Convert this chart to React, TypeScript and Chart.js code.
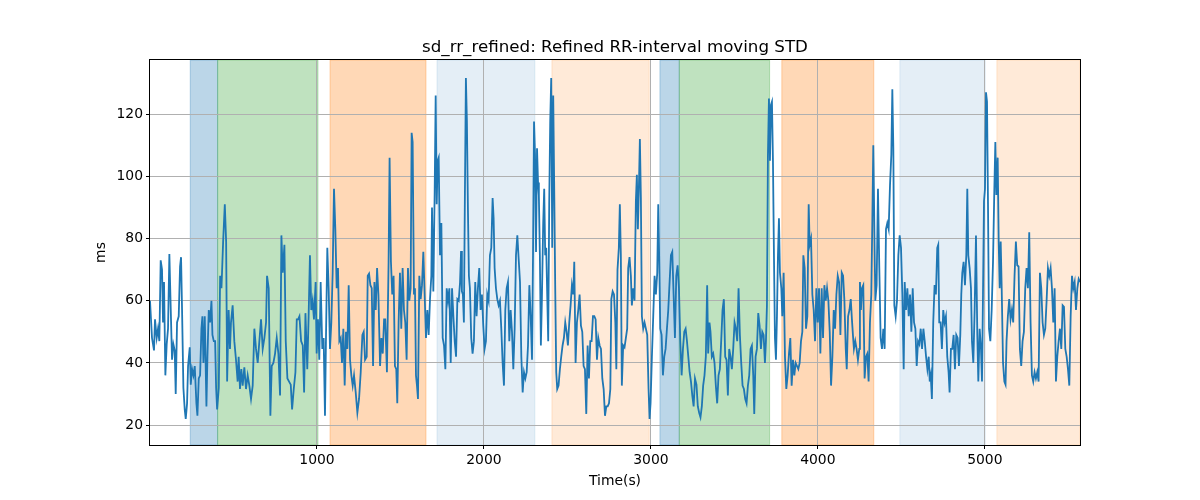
import { useEffect, useRef } from "react";
import { Chart, registerables } from "chart.js";

Chart.register(...registerables);

// ---- data ----
const timeSec = [
  0, 12, 24, 30, 40, 48, 56, 64, 72, 78, 84, 92, 100, 108, 116, 122, 132, 140, 148, 154,
  162, 172, 180, 186, 192, 200, 208, 214, 222, 228, 238, 244, 252, 260, 268, 278, 284, 292, 300, 308,
  314, 320, 328, 338, 344, 352, 360, 368, 374, 382, 390, 396, 402, 412, 420, 428, 438, 448, 456, 462,
  471, 479, 485, 495, 505, 515, 525, 531, 539, 547, 555, 565, 575, 585, 595, 605, 615, 625, 635, 645,
  655, 665, 675, 685, 695, 701, 711, 721, 729, 739, 749, 759, 769, 779, 787, 795, 805, 813, 823, 833,
  843, 851, 861, 871, 879, 887, 895, 905, 915, 923, 931,
  942, 950, 958, 966, 974, 982, 992, 998, 1006, 1014, 1022, 1032, 1040, 1048, 1054, 1062, 1070, 1078, 1086, 1094,
  1102, 1110, 1118, 1126, 1134, 1142, 1150, 1158, 1166, 1174, 1182, 1190, 1198, 1206, 1214, 1222, 1232, 1242, 1252, 1262,
  1272, 1280, 1288, 1298, 1304, 1312, 1320, 1328, 1336, 1344, 1352, 1360, 1368, 1378, 1386,
  1394, 1402, 1409, 1419, 1429, 1435, 1443, 1451, 1459, 1467, 1475, 1481, 1489, 1497, 1505, 1513, 1521, 1529, 1537, 1545,
  1553, 1561, 1567, 1573, 1581, 1587, 1593, 1599, 1605, 1613, 1621, 1629, 1637, 1645, 1653, 1661, 1669, 1677, 1685, 1689,
  1697, 1705, 1711, 1717, 1723, 1729, 1737, 1745, 1753, 1761, 1769, 1777, 1785, 1793, 1801, 1809, 1817, 1825, 1833, 1841,
  1849, 1857, 1863, 1868, 1874, 1880, 1886, 1892, 1898, 1904, 1910, 1916, 1924, 1932, 1940, 1948, 1956, 1964, 1972, 1980,
  1988, 1996, 2004, 2012, 2020, 2028, 2036, 2044, 2052, 2058, 2064, 2072, 2080, 2088, 2096, 2104, 2112, 2120, 2128, 2136,
  2144, 2152, 2160, 2168, 2176, 2184, 2192, 2200, 2208, 2216, 2224, 2232, 2240, 2248, 2256, 2264, 2272, 2280, 2288, 2294,
  2300, 2306, 2312, 2318, 2324,
  2329, 2335, 2341, 2347, 2355, 2361, 2367, 2373, 2379, 2385, 2391, 2397, 2403, 2409, 2415, 2421, 2427, 2433, 2439, 2447,
  2455, 2463, 2471, 2479, 2487, 2495, 2503, 2511, 2519, 2527, 2535, 2541, 2549, 2557, 2565, 2573, 2581, 2589, 2597, 2605,
  2613, 2621, 2629, 2637, 2645, 2653, 2661, 2669, 2677, 2685, 2693, 2701, 2709, 2717, 2725, 2733, 2741, 2749, 2757, 2763,
  2771, 2779, 2787, 2793, 2800, 2808, 2814, 2820, 2826, 2834, 2842, 2850, 2858, 2864, 2872, 2880, 2886, 2894, 2902, 2910,
  2916, 2922, 2928, 2934, 2940, 2946, 2954, 2962, 2970, 2978, 2986, 2992, 2998, 3006, 3014, 3022, 3030, 3038, 3044, 3050,
  3056, 3064, 3072, 3080, 3088, 3096, 3104, 3112, 3120, 3128, 3136, 3144, 3152, 3160, 3168, 3176, 3184, 3192, 3200, 3208,
  3216, 3224, 3232, 3240, 3248, 3256,
  3264, 3273, 3281, 3289, 3297, 3305, 3313, 3321, 3329, 3337, 3343, 3351, 3357, 3365, 3373, 3381, 3389, 3397, 3405, 3413,
  3421, 3429, 3437, 3445, 3453, 3461, 3469, 3477, 3485, 3493, 3501, 3509, 3517, 3525, 3533, 3541, 3549, 3557, 3565, 3573,
  3581, 3589, 3597, 3605, 3613, 3619, 3627, 3635, 3643, 3651, 3659, 3667, 3675, 3683, 3689, 3695, 3701, 3707, 3713, 3719,
  3725, 3731, 3737, 3743, 3749, 3755, 3761, 3767, 3773, 3781, 3787, 3795, 3803, 3811, 3819, 3827, 3835, 3843, 3851, 3859,
  3867, 3875, 3883, 3891, 3899, 3907, 3913, 3921, 3929, 3937, 3945, 3951, 3959, 3967, 3975, 3983, 3991, 3999, 4007, 4015,
  4023, 4031, 4039, 4047, 4055, 4063, 4071, 4079, 4087, 4095, 4103, 4111, 4119, 4127, 4135, 4143, 4151, 4159, 4167, 4173,
  4181, 4189, 4197,
  4204, 4210, 4216, 4224, 4232, 4240, 4248, 4252, 4258, 4264, 4272, 4280, 4288, 4296, 4304, 4312, 4320, 4326, 4332, 4338,
  4344, 4352, 4360, 4368, 4376, 4384, 4392, 4400, 4408, 4416, 4424, 4432, 4440, 4446, 4452, 4458, 4466, 4474, 4482, 4490,
  4498, 4506, 4514, 4520, 4528, 4536, 4544, 4552, 4560, 4568, 4576, 4584, 4592, 4600, 4608, 4616, 4624, 4632, 4640, 4648,
  4656, 4664, 4670, 4676, 4683, 4691, 4699, 4707, 4715, 4721, 4727, 4735, 4743, 4751, 4759, 4767, 4775, 4783, 4789, 4797,
  4805, 4813, 4821, 4829, 4837, 4845, 4853, 4859, 4865, 4873, 4881, 4889, 4895, 4901, 4909, 4917, 4923, 4931, 4939, 4947,
  4955, 4961, 4969, 4977, 4983, 4989, 4995, 5001, 5007, 5013, 5019, 5025, 5033, 5041, 5049, 5057, 5063, 5069, 5077, 5083,
  5089, 5095, 5101, 5109,
  5117, 5124, 5130, 5138, 5146, 5154, 5162, 5170, 5178, 5186, 5194, 5202, 5210, 5218, 5226, 5234, 5242, 5250, 5258, 5266,
  5274, 5282, 5290, 5298, 5306, 5314, 5322, 5330, 5338, 5346, 5354, 5362, 5370, 5378, 5386, 5394, 5402, 5410, 5418, 5426,
  5434, 5442, 5450, 5458, 5466, 5474, 5482, 5490, 5498, 5506, 5514, 5522, 5530, 5538, 5546, 5554, 5562, 5570,
];

const sdRrMs = [
  60, 48, 44, 54, 48, 51, 47, 73, 70, 53, 66, 36, 46, 51, 75, 62, 41, 46, 44, 30,
  53, 55, 71, 74, 57, 32, 25, 22, 27, 39, 45, 33, 38, 36, 39, 27, 23, 35, 36, 51,
  55, 40, 55, 26, 42, 57, 53, 60, 49, 47, 47, 32, 25, 32, 68, 64, 79, 91, 79, 34,
  57, 44.5, 53, 58.5, 47, 41, 34, 42, 31.6, 38, 32.7, 38.6, 31.6, 36, 32.7, 28.4, 32.7, 51, 44.5, 40,
  47, 54, 44.5, 48, 53, 68, 64, 23, 39, 40, 43, 48, 43, 29.5, 81, 69, 78, 47, 35, 34,
  33, 25, 31.6, 37, 54, 54, 55, 47, 45.6, 30.5, 56,
  38, 55, 74.6, 57, 60, 54, 66, 43, 54, 41, 66, 44.5, 48, 23, 48, 77, 64, 44.5, 53, 69,
  96, 83, 64, 70.5, 47, 48, 40, 51, 32.7, 50, 44.5, 65, 41, 36, 32.7, 36, 30.5, 24, 28.4, 37,
  49, 50, 41, 42, 68, 68.7, 65, 64, 39, 66, 57, 70.5, 62, 39, 48,
  43, 54, 54, 37, 72.5, 106, 72.5, 62, 68, 39, 38, 27, 53, 69, 51, 70.5, 57, 53, 41, 70.5,
  60, 64, 114, 111, 62, 64, 36, 32.7, 28.4, 68, 60.5, 65, 75.7, 62, 48, 57, 49, 60.5, 68, 90,
  63, 95, 126, 91, 105, 106, 74.6, 85, 48, 45.6, 38, 64, 60, 64, 40, 64, 55, 47, 42, 60.5,
  60, 66, 76, 63, 62, 53, 94, 131.6, 117.6, 90, 68, 64, 48, 43, 47, 66, 55, 64, 70.5, 57,
  62, 52, 44.5, 47, 62, 60, 74.6, 77, 93, 86.5, 70.5, 64, 60.5, 58.5, 60, 51, 40, 32.7, 57, 64,
  66, 47, 57, 50, 38, 51, 74.6, 81, 73.5, 66, 42, 30.5, 37, 35, 37, 45.6, 65, 55, 41, 74.6,
  117.6, 107, 75.7, 109, 98,
  94, 74.6, 45.6, 60, 85, 96, 74.6, 77, 62, 47, 91, 117.6, 131.6, 77, 126, 96, 64, 37, 31.6, 32.7,
  38, 42, 45.6, 48, 53, 50, 45.6, 53, 58.5, 65, 62, 72.5, 40, 53, 57, 62, 52, 50, 39, 38,
  23.6, 45.6, 35, 47, 47, 55, 55, 54, 41, 48, 45.6, 44.5, 35, 31.6, 23, 26, 26, 27, 31.6, 60.5,
  63, 62, 53, 38, 70, 77, 91, 74.6, 32.7, 45.6, 45, 48, 51, 70.5, 74, 68, 58.5, 64, 60, 92,
  100.5, 83, 96, 112, 93, 55, 51, 53, 51, 49, 31.6, 22, 27, 42, 55, 68, 62, 69, 91, 72.5,
  51, 49, 36, 42, 44.5, 51, 57, 66, 74.6, 75.7, 62, 48, 68, 71.4, 64, 47, 36, 44.5, 50, 51,
  47, 42, 37, 34, 29.5, 26,
  35, 33, 26, 24, 22.5, 26, 32.7, 36, 42, 65, 43, 53, 50, 42, 43, 40, 32.7, 27, 36, 38,
  47, 57, 60.5, 42, 41, 29.5, 44.5, 42, 38, 44.5, 53, 51, 47, 64, 49, 40, 32.7, 31.6, 28.4, 27,
  32.7, 36, 44.5, 45.6, 36, 23.6, 42, 44.5, 56, 52, 44.5, 50, 49, 40, 47, 58.5, 107, 125, 105, 123,
  124, 105, 74.6, 48, 41, 55, 74.6, 86.5, 69, 64, 55, 69, 42, 31.6, 36, 43, 48, 32.7, 41, 36,
  40, 39, 38, 40, 47, 50, 74.6, 70.5, 51, 55, 91, 78, 80, 62, 57, 47, 64, 53, 64, 43,
  64, 48, 65, 60, 64, 60, 50, 32.7, 42, 57, 51, 62, 68, 66, 49, 69, 68, 60, 44.5, 38,
  55, 57, 60.5,
  54, 49, 44.5, 47, 44.5, 41, 44.5, 66, 57, 64, 65, 35, 42, 43, 34, 53, 62, 85, 110, 85,
  60, 65, 96, 70.5, 48, 44.5, 51, 44.5, 83, 85, 83, 97, 107, 128, 109, 58.5, 55, 60, 74.6, 81,
  77, 62, 38, 66, 57, 64, 55, 62, 50, 64, 53, 51, 39, 47, 46, 51, 44.5, 51, 47, 42,
  38, 42, 34, 36, 28.4, 53, 65, 62, 77, 78, 53, 53, 44.5, 57, 53, 55, 42, 37, 30.5, 44.5,
  44.5, 49, 38, 49, 48, 39, 49, 62, 69, 72.5, 65, 74.6, 96, 74.6, 70.5, 64, 47, 40, 57, 81,
  49, 34, 51, 44.5, 34, 62, 92, 96, 127, 124, 91, 51, 47, 57, 72.5, 96, 111, 94, 106, 79,
  64, 79, 64, 40,
  34, 33, 47, 55, 60.5, 54, 57, 53, 68, 79, 71.4, 71, 44.5, 39, 47, 50, 64, 70.5, 64, 82,
  53, 36, 34, 37, 35, 37, 34, 69, 64, 53, 49, 51, 60, 70.5, 68, 70.5, 64, 53, 64, 34,
  42, 47, 51, 44.5, 58.5, 58, 44.5, 42, 38, 32.7, 55, 68, 64, 66, 57, 64, 67, 66,
];

const xTicks = [1000, 2000, 3000, 4000, 5000];
const yTicks = [20, 40, 60, 80, 100, 120];

// shaded phases (time in s)
const spanStart = [241, 405, 1078, 1719, 2407, 3054, 3170, 3784, 4491, 5072];
const spanEnd = [405, 1006, 1653, 2305, 2990, 3170, 3711, 4335, 5002, 5570];
const spanPhase = ["blue", "green", "orange", "blueLight", "orangeLight", "blue", "green", "orange", "blueLight", "orangeLight"];

const X_MIN = 0;
const X_MAX = 5570;
const Y_MIN = 13.6;
const Y_MAX = 137.4;

// ---- styles ----
const FONT = "'DejaVu Sans', 'Liberation Sans', sans-serif";
const phaseFill: Record<string, string> = {
  blue: "rgba(31,119,180,0.3)",
  green: "rgba(44,160,44,0.3)",
  orange: "rgba(255,127,14,0.3)",
  blueLight: "rgba(31,119,180,0.12)",
  orangeLight: "rgba(255,127,14,0.16)",
};

const decorPlugin = {
  id: "decor",
  beforeDraw(chart: any) {
    const { ctx, chartArea, scales } = chart;
    const x = scales.x;
    ctx.save();
    ctx.beginPath();
    ctx.rect(chartArea.left, chartArea.top, chartArea.right - chartArea.left, chartArea.bottom - chartArea.top);
    ctx.clip();
    spanStart.forEach((s, i) => {
      const x0 = x.getPixelForValue(s);
      const x1 = x.getPixelForValue(spanEnd[i]);
      const c = phaseFill[spanPhase[i]];
      ctx.fillStyle = c;
      ctx.fillRect(x0, chartArea.top, x1 - x0, chartArea.bottom - chartArea.top);
      ctx.strokeStyle = c;
      ctx.lineWidth = 1;
      ctx.strokeRect(x0, chartArea.top, x1 - x0, chartArea.bottom - chartArea.top);
    });
    ctx.restore();
  },
  afterDraw(chart: any) {
    const { ctx, chartArea } = chart;
    ctx.save();
    // frame
    ctx.strokeStyle = "#000";
    ctx.lineWidth = 1;
    ctx.strokeRect(
      Math.round(chartArea.left) - 0.5,
      Math.round(chartArea.top) - 0.5,
      Math.round(chartArea.right - chartArea.left) + 1,
      Math.round(chartArea.bottom - chartArea.top) + 1
    );
    const cx = (chartArea.left + chartArea.right) / 2;
    const cy = (chartArea.top + chartArea.bottom) / 2;
    ctx.fillStyle = "#000";
    // title
    ctx.font = `16.7px ${FONT}`;
    ctx.textAlign = "center";
    ctx.textBaseline = "alphabetic";
    ctx.fillText("sd_rr_refined: Refined RR-interval moving STD", cx, chartArea.top - 8);
    // x label
    ctx.font = `13.9px ${FONT}`;
    ctx.textBaseline = "middle";
    ctx.fillText("Time(s)", cx, 481);
    // y label
    ctx.translate(101, cy);
    ctx.rotate(-Math.PI / 2);
    ctx.fillText("ms", 0, 0);
    ctx.restore();
  },
};

export default function App() {
  const canvasRef = useRef<HTMLCanvasElement | null>(null);

  useEffect(() => {
    document.body.style.margin = "0";
    const canvas = canvasRef.current;
    if (!canvas) return;
    const points = timeSec.map((t, i) => ({ x: t, y: sdRrMs[i] }));
    const chart = new Chart(canvas, {
      type: "line",
      data: {
        datasets: [
          {
            label: "sd_rr_refined",
            data: points,
            borderColor: "#1f77b4",
            borderWidth: 1.8,
            pointRadius: 0,
            tension: 0,
            fill: false,
          },
        ],
      },
      options: {
        responsive: false,
        animation: false,
        devicePixelRatio: 1,
        layout: { padding: { left: 0, right: 120, top: 60, bottom: 0 } },
        plugins: {
          legend: { display: false },
          title: { display: false },
          tooltip: { enabled: false },
        },
        scales: {
          x: {
            type: "linear",
            min: X_MIN,
            max: X_MAX,
            afterBuildTicks: (s: any) => {
              s.ticks = xTicks.map((v) => ({ value: v }));
            },
            afterFit: (s: any) => {
              s.height = 55;
            },
            grid: { color: "#b0b0b0", lineWidth: 1, tickLength: 4, tickColor: "#000", drawTicks: true },
            border: { display: false },
            ticks: {
              color: "#000",
              font: { size: 13.9, family: FONT },
              padding: 3,
              maxRotation: 0,
              autoSkip: false,
              callback: (v: any) => String(v),
            },
          },
          y: {
            type: "linear",
            min: Y_MIN,
            max: Y_MAX,
            afterBuildTicks: (s: any) => {
              s.ticks = yTicks.map((v) => ({ value: v }));
            },
            afterFit: (s: any) => {
              s.width = 150;
            },
            grid: { color: "#b0b0b0", lineWidth: 1, tickLength: 4, tickColor: "#000", drawTicks: true },
            border: { display: false },
            ticks: {
              color: "#000",
              font: { size: 13.9, family: FONT },
              padding: 3,
              autoSkip: false,
              callback: (v: any) => String(v),
            },
          },
        },
      },
      plugins: [decorPlugin],
    });
    return () => chart.destroy();
  }, []);

  return (
    <div style={{ width: 1200, height: 500, background: "#fff" }}>
      <canvas ref={canvasRef} width={1200} height={500} style={{ display: "block" }} />
    </div>
  );
}
